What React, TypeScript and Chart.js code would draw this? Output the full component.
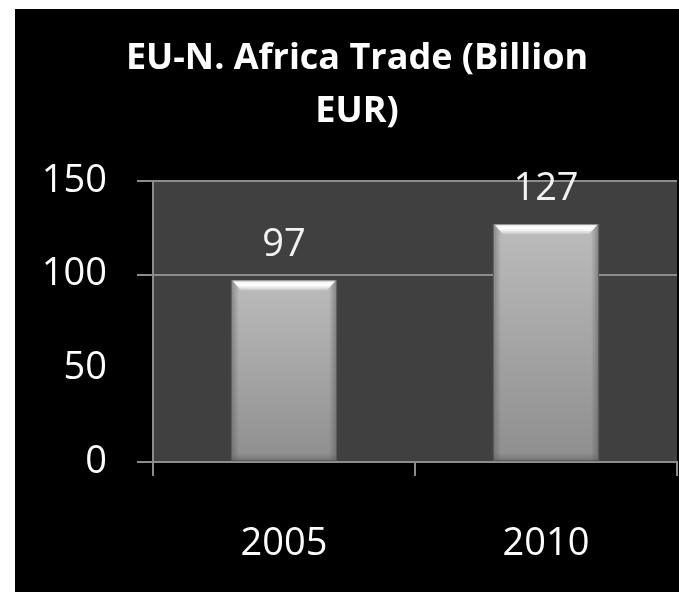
import React, { useEffect, useRef } from 'react';
import { Chart, registerables } from 'chart.js';

Chart.register(...registerables);

const categories = ['2005', '2010'];
const tradeValues = [97, 127];
const titleLines = ['EU-N. Africa Trade (Billion', 'EUR)'];
const yMin = 0;
const yMax = 150;
const yStep = 50;
const hiddenGridValues = [50];

const FONT = '"Open Sans", Lato, sans-serif';

const backgroundPlugin = {
  id: 'bgPlugin',
  beforeDraw(chart: any) {
    const { ctx, width, height, chartArea } = chart;
    ctx.save();
    ctx.fillStyle = '#ffffff';
    ctx.fillRect(0, 0, width, height);
    ctx.fillStyle = '#000000';
    ctx.fillRect(15, 9, width - 15, height - 9);
    if (chartArea) {
      ctx.fillStyle = '#404040';
      ctx.fillRect(chartArea.left, chartArea.top, chartArea.right - chartArea.left, chartArea.bottom - chartArea.top);
    }
    ctx.restore();
  },
};

const titlePlugin = {
  id: 'titlePlugin',
  afterDraw(chart: any) {
    const { ctx } = chart;
    ctx.save();
    ctx.fillStyle = '#ffffff';
    ctx.font = `bold 36px ${FONT}`;
    ctx.textAlign = 'center';
    ctx.textBaseline = 'alphabetic';
    titleLines.forEach((line, i) => {
      ctx.fillText(line, 357, 69 + i * 53);
    });
    ctx.restore();
  },
};

const bevelPlugin = {
  id: 'bevelPlugin',
  afterDatasetsDraw(chart: any) {
    const { ctx } = chart;
    const meta = chart.getDatasetMeta(0);
    ctx.save();
    meta.data.forEach((el: any) => {
      const { x, y, width, base } = el.getProps(['x', 'y', 'width', 'base'], true);
      const left = x - width / 2;
      const right = x + width / 2;
      const bev = 10;
      const lg = ctx.createLinearGradient(left, 0, left + 8, 0);
      lg.addColorStop(0, 'rgba(90,90,90,0.55)');
      lg.addColorStop(1, 'rgba(90,90,90,0)');
      ctx.fillStyle = lg;
      ctx.fillRect(left, y, 8, base - y);
      const rg = ctx.createLinearGradient(right - 8, 0, right, 0);
      rg.addColorStop(0, 'rgba(90,90,90,0)');
      rg.addColorStop(1, 'rgba(90,90,90,0.6)');
      ctx.fillStyle = rg;
      ctx.fillRect(right - 8, y, 8, base - y);
      const bg = ctx.createLinearGradient(0, base - 8, 0, base);
      bg.addColorStop(0, 'rgba(90,90,90,0)');
      bg.addColorStop(1, 'rgba(90,90,90,0.5)');
      ctx.fillStyle = bg;
      ctx.fillRect(left, base - 8, width, 8);
      const tg = ctx.createLinearGradient(0, y, 0, y + bev);
      tg.addColorStop(0, '#f4f4f4');
      tg.addColorStop(0.5, '#ffffff');
      tg.addColorStop(1, '#c8c8c8');
      ctx.fillStyle = tg;
      ctx.beginPath();
      ctx.moveTo(left + 1, y);
      ctx.lineTo(right - 1, y);
      ctx.lineTo(right - bev, y + bev);
      ctx.lineTo(left + bev, y + bev);
      ctx.closePath();
      ctx.fill();
      ctx.strokeStyle = 'rgba(70,70,70,0.6)';
      ctx.lineWidth = 1;
      ctx.strokeRect(left + 0.5, y + 0.5, width - 1, base - y - 1);
    });
    ctx.restore();
  },
};

const valueLabelPlugin = {
  id: 'valueLabelPlugin',
  afterDatasetsDraw(chart: any) {
    const { ctx } = chart;
    const meta = chart.getDatasetMeta(0);
    ctx.save();
    ctx.fillStyle = '#f2f2f2';
    ctx.font = `38px ${FONT}`;
    ctx.textAlign = 'center';
    ctx.textBaseline = 'alphabetic';
    meta.data.forEach((el: any, i: number) => {
      const { x, y } = el.getProps(['x', 'y'], true);
      ctx.fillText(String(tradeValues[i]), x, y - 24);
    });
    ctx.restore();
  },
};

export default function App() {
  const canvasRef = useRef<HTMLCanvasElement | null>(null);

  useEffect(() => {
    const canvas = canvasRef.current;
    if (!canvas) return;
    const chart = new Chart(canvas, {
      type: 'bar',
      data: {
        labels: categories,
        datasets: [
          {
            label: 'EU-N. Africa Trade',
            data: tradeValues,
            backgroundColor: (c: any) => {
              const ch = c.chart;
              const ys = ch.scales && ch.scales.y;
              const ca = ch.chartArea;
              if (!ys || !ca || c.dataIndex === undefined) return '#a8a8a8';
              const top = ys.getPixelForValue(tradeValues[c.dataIndex]);
              const bottom = ys.getPixelForValue(0);
              if (!isFinite(top) || !isFinite(bottom) || top === bottom) return '#a8a8a8';
              const g = ch.ctx.createLinearGradient(0, top, 0, bottom);
              g.addColorStop(0, '#bcbcbc');
              g.addColorStop(1, '#8e8e8e');
              return g;
            },
            borderWidth: 0,
            barPercentage: 0.405,
            categoryPercentage: 1,
          },
        ],
      },
      options: {
        responsive: false,
        animation: false,
        layout: { padding: { left: 15, top: 181, right: 2, bottom: 0 } },
        plugins: {
          legend: { display: false },
          title: { display: false },
          tooltip: { enabled: false },
        },
        scales: {
          x: {
            grid: {
              offset: true,
              drawOnChartArea: false,
              drawTicks: true,
              tickLength: 14,
              color: '#8c8c8c',
              lineWidth: 2,
            },
            border: { display: true, color: '#8c8c8c', width: 2 },
            ticks: {
              color: '#ffffff',
              font: { family: FONT, size: 38 },
              padding: 45,
            },
            afterFit(scale: any) {
              scale.height = 130;
            },
          },
          y: {
            min: yMin,
            max: yMax,
            grid: {
              color: (c: any) =>
                c.tick && hiddenGridValues.includes(c.tick.value) ? 'rgba(0,0,0,0)' : '#8c8c8c',
              lineWidth: 2,
              tickLength: 16,
              drawTicks: true,
            },
            border: { display: true, color: '#8c8c8c', width: 2 },
            ticks: {
              stepSize: yStep,
              color: '#ffffff',
              font: { family: FONT, size: 38 },
              padding: 30,
            },
            afterFit(scale: any) {
              scale.width = 138;
            },
          },
        },
      },
      plugins: [backgroundPlugin, bevelPlugin, valueLabelPlugin, titlePlugin],
    });
    return () => chart.destroy();
  }, []);

  return (
    <div style={{ position: 'fixed', left: 0, top: 0, width: 679, height: 592 }}>
      <canvas ref={canvasRef} width={679} height={592} style={{ display: 'block' }} />
    </div>
  );
}
